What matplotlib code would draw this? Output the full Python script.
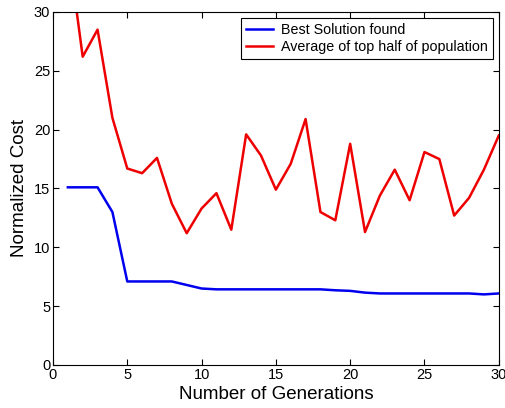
import matplotlib
matplotlib.use("Agg")
import matplotlib.pyplot as plt

plt.rcParams['font.family'] = ['Liberation Sans', 'DejaVu Sans']

generations = list(range(1, 31))
best = [15.1, 15.1, 15.1, 13.0, 7.1, 7.1, 7.1, 7.1, 6.8, 6.5,
        6.43, 6.43, 6.43, 6.43, 6.43, 6.43, 6.43, 6.43, 6.35, 6.3,
        6.15, 6.08, 6.08, 6.08, 6.08, 6.08, 6.08, 6.08, 6.0, 6.08]
avg_top = [35.7, 26.2, 28.5, 21.0, 16.7, 16.3, 17.6, 13.7, 11.2, 13.3,
           14.6, 11.5, 19.6, 17.8, 14.9, 17.1, 20.9, 13.0, 12.3, 18.8,
           11.3, 14.4, 16.6, 14.0, 18.1, 17.5, 12.7, 14.2, 16.6, 19.5]
xticks = [0, 5, 10, 15, 20, 25, 30]
yticks = [0, 5, 10, 15, 20, 25, 30]

fig = plt.figure(figsize=(5.06, 4.08), dpi=100)
ax = fig.add_axes([0.1047, 0.1054, 0.881, 0.8652])
ax.plot(generations, best, color='#0000ee', lw=1.8, label='Best Solution found')
ax.plot(generations, avg_top, color='#ee0000', lw=1.8, label='Average of top half of population')
ax.set_xlim(0, 30)
ax.set_ylim(0, 30)
ax.set_xticks(xticks)
ax.set_yticks(yticks)
ax.tick_params(direction='in', top=True, right=True, labelsize=10.5, length=4, pad=2)
ax.set_xlabel('Number of Generations', fontsize=13.5, labelpad=3)
ax.set_ylabel('Normalized Cost', fontsize=13.5, labelpad=4)
leg = ax.legend(loc='upper right', fontsize=10.3, fancybox=False, framealpha=1,
                edgecolor='black', borderpad=0.35, handlelength=1.9,
                handletextpad=0.55, labelspacing=0.25, borderaxespad=0.4)
leg.get_frame().set_linewidth(0.8)
fig.savefig('out.png', dpi=100)
